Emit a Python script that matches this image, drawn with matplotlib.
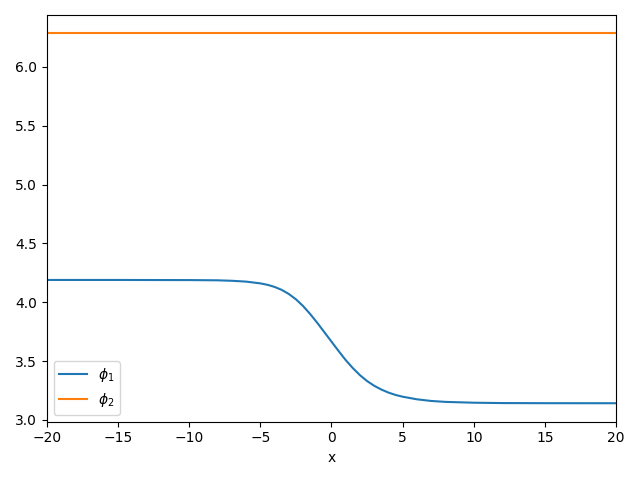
import matplotlib
matplotlib.use("Agg")
import matplotlib.pyplot as plt

# values
x = [-20, -15, -10, -8, -7, -6, -5, -4.5, -4, -3.5, -3, -2.5, -2, -1.5, -1, -0.5,
     0, 0.5, 1, 1.5, 2, 2.5, 3, 3.5, 4, 4.5, 5, 6, 7, 8, 10, 12, 15, 20]
phi1 = [4.189, 4.189, 4.188, 4.186, 4.182, 4.175, 4.160, 4.148, 4.130, 4.105,
        4.070, 4.025, 3.968, 3.900, 3.825, 3.745, 3.665, 3.585, 3.508, 3.440,
        3.380, 3.330, 3.290, 3.258, 3.232, 3.212, 3.197, 3.175, 3.161, 3.153,
        3.146, 3.143, 3.142, 3.1416]
phi2 = [6.2832] * len(x)

fig, ax = plt.subplots(figsize=(6.4, 4.8), dpi=100)
ax.plot(x, phi1, label=r'$\phi_1$')
ax.plot(x, phi2, label=r'$\phi_2$')
ax.set_xlim(-20, 20)
ax.set_xlabel('x')
ax.legend(loc='lower left')
fig.tight_layout()
fig.savefig('out.png')
